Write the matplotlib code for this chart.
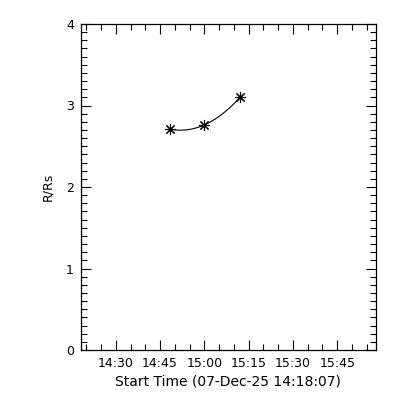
import datetime as dt

import matplotlib
matplotlib.use('Agg')
import matplotlib.pyplot as plt
import matplotlib.dates as mdates
import numpy as np

# measured heights
t_str = ['14:48:20', '14:59:52', '15:12:04']
r_rs = [2.71, 2.76, 3.10]
start = '14:18:07'
date_lbl = '07-Dec-25'
x_span_min = 100

day = dt.date(2025, 12, 7)


def to_dt(s):
    return dt.datetime.combine(day, dt.datetime.strptime(s, '%H:%M:%S').time())


times = [to_dt(s) for s in t_str]
t0 = to_dt(start)

fig = plt.figure(figsize=(4, 4), dpi=100)
fig.patch.set_facecolor('white')
ax = fig.add_axes([0.2018, 0.125, 0.738, 0.815])

# quadratic fit through the points, like the original
xs = np.array([(t - t0).total_seconds() for t in times])
coef = np.polyfit(xs, r_rs, 2)
xf = np.linspace(xs[0], xs[-1], 100)
tf = [t0 + dt.timedelta(seconds=float(s)) for s in xf]
ax.plot(tf, np.polyval(coef, xf), color='black', lw=0.8)
ax.plot(times, r_rs, ls='none', marker=(8, 2, 0), ms=8, mew=0.8, color='black')

ax.set_xlim(t0, t0 + dt.timedelta(minutes=x_span_min))
ax.set_ylim(0, 4)
ax.xaxis.set_major_locator(mdates.MinuteLocator(byminute=[0, 15, 30, 45]))
ax.xaxis.set_minor_locator(mdates.MinuteLocator(byminute=range(0, 60, 5)))
ax.xaxis.set_major_formatter(mdates.DateFormatter('%H:%M'))
ax.set_yticks([0, 1, 2, 3, 4])
ax.set_yticks(np.arange(0, 4.01, 0.1), minor=True)

for s in ax.spines.values():
    s.set_linewidth(0.9)
ax.tick_params(which='both', direction='in', top=True, right=True,
               labelsize=9, width=0.8, pad=5)
ax.tick_params(which='major', length=7)
ax.tick_params(which='minor', length=4)

ax.set_xlabel(f'Start Time ({date_lbl} {start})', fontsize=10, labelpad=3)
ax.set_ylabel('R/Rs', fontsize=9, labelpad=8)

fig.savefig('out.png', dpi=100)
